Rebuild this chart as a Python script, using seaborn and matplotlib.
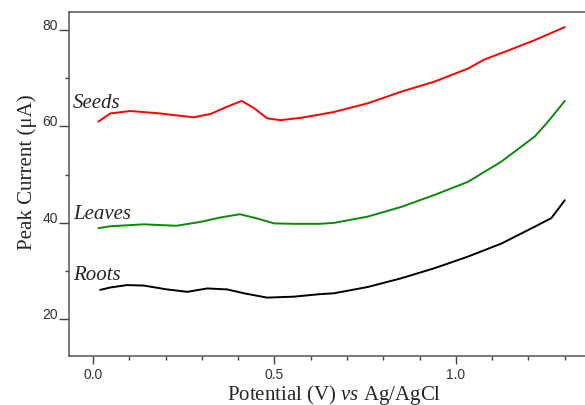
import pandas as pd
import seaborn as sns
from matplotlib import pyplot as plt
from matplotlib.ticker import MultipleLocator

# values
seeds_v = [0.015, 0.048, 0.103, 0.186, 0.23, 0.278, 0.324, 0.37, 0.41, 0.444, 0.48, 0.517,
           0.573, 0.62, 0.664, 0.757, 0.849, 0.941, 1.033, 1.079, 1.125, 1.217, 1.30]
seeds_i = [61.0, 62.7, 63.2, 62.7, 62.3, 61.9, 62.6, 64.1, 65.3, 63.8, 61.7, 61.3,
           61.8, 62.4, 63.0, 64.8, 67.2, 69.3, 72.0, 73.9, 75.2, 77.9, 80.6]

leaves_v = [0.015, 0.048, 0.14, 0.23, 0.296, 0.35, 0.405, 0.453, 0.499, 0.554, 0.623,
            0.664, 0.757, 0.849, 0.941, 1.033, 1.079, 1.125, 1.217, 1.254, 1.30]
leaves_i = [38.9, 39.3, 39.7, 39.4, 40.2, 41.1, 41.8, 40.9, 39.9, 39.8, 39.8,
            40.0, 41.3, 43.3, 45.8, 48.5, 50.6, 52.7, 57.9, 61.0, 65.3]

roots_v = [0.02, 0.048, 0.094, 0.14, 0.204, 0.26, 0.315, 0.37, 0.416, 0.48, 0.554,
           0.623, 0.664, 0.757, 0.849, 0.941, 1.033, 1.125, 1.217, 1.263, 1.30]
roots_i = [26.1, 26.6, 27.1, 27.0, 26.2, 25.7, 26.4, 26.2, 25.4, 24.5, 24.7,
           25.2, 25.4, 26.7, 28.5, 30.6, 33.0, 35.7, 39.2, 41.0, 44.7]

samples = ["Seeds", "Leaves", "Roots"]
colors = ["#ff0000", "#0a8a0a", "#000000"]
label_pos = [(-0.055, 63.9), (-0.055, 40.9), (-0.055, 28.1)]

df = pd.concat([
    pd.DataFrame({"v": seeds_v, "i": seeds_i, "sample": "Seeds"}),
    pd.DataFrame({"v": leaves_v, "i": leaves_i, "sample": "Leaves"}),
    pd.DataFrame({"v": roots_v, "i": roots_i, "sample": "Roots"}),
])

sns.set_style("ticks")
plt.rcParams["font.family"] = ["Liberation Serif", "DejaVu Serif"]
plt.rcParams["mathtext.fontset"] = "custom"
plt.rcParams["mathtext.rm"] = "Liberation Serif"
plt.rcParams["mathtext.it"] = "Liberation Serif:italic"

fig = plt.figure(figsize=(5.85, 4.05), dpi=100)
ax = fig.add_axes([0.1185, 0.1217, 0.909, 0.8494])

sns.lineplot(data=df, x="v", y="i", hue="sample", palette=dict(zip(samples, colors)),
             linewidth=1.4, legend=False, ax=ax, sort=False, estimator=None)

for name, (lx, ly) in zip(samples, label_pos):
    ax.text(lx, ly, name, fontsize=15, style="italic", va="baseline", ha="left")

ax.set_xlim(-0.065, 1.40)
ax.set_ylim(12.45, 83.8)
ax.xaxis.set_major_locator(MultipleLocator(0.5))
ax.xaxis.set_minor_locator(MultipleLocator(0.1))
ax.yaxis.set_major_locator(MultipleLocator(20))
ax.yaxis.set_minor_locator(MultipleLocator(10))

for s in ax.spines.values():
    s.set_color("#555555")
    s.set_linewidth(1.1)

ax.tick_params(which="both", color="#444444", width=1.0, labelcolor="#333333", labelsize=10)
ax.tick_params(axis="y", which="major", length=7.2, pad=1)
ax.tick_params(axis="y", which="minor", length=2.9)
ax.tick_params(axis="x", which="major", length=5.8, pad=3)
ax.tick_params(axis="x", which="minor", length=2.9)
for t in ax.get_xticklabels() + ax.get_yticklabels():
    t.set_fontfamily(["Liberation Sans", "DejaVu Sans"])
for t in ax.get_yticklabels():
    t.set_va("baseline")

ax.set_xlabel(r"Potential (V) $\mathit{vs}$ Ag/AgCl", fontsize=15)
ax.set_ylabel("Peak Current (μA)", fontsize=15)
ax.xaxis.set_label_coords(0.498, -0.078)
ax.yaxis.set_label_coords(-0.061, 0.534)

plt.savefig("out.png", dpi=100)
